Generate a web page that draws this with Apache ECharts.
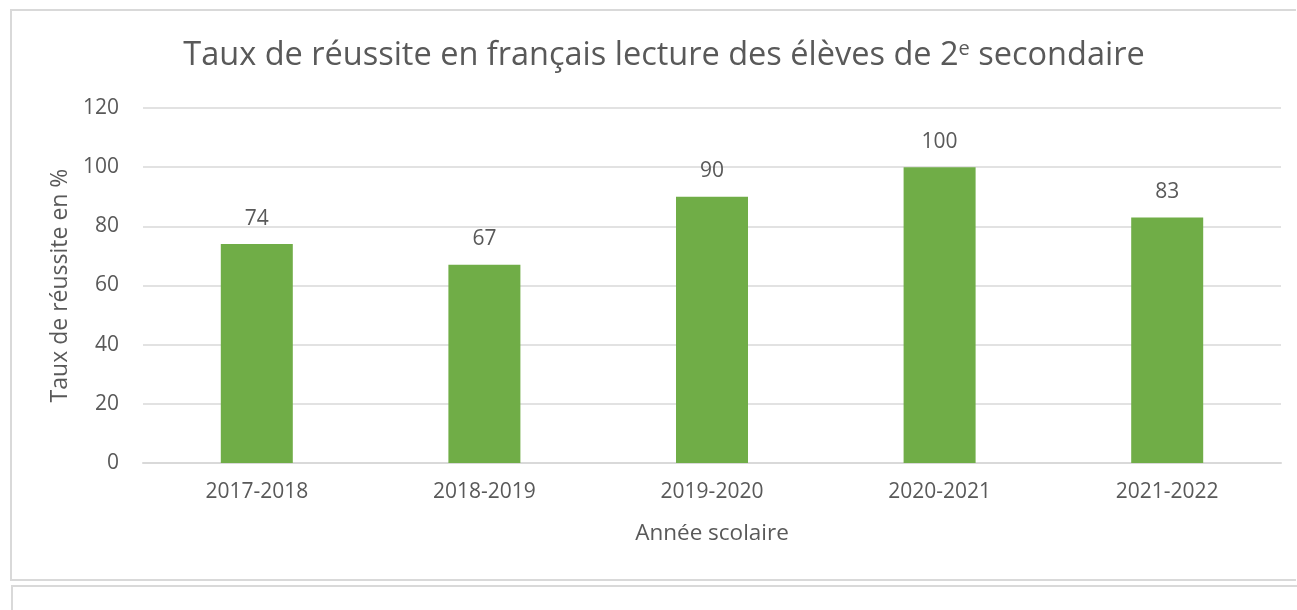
<!DOCTYPE html>
<html>
<head>
<meta charset="utf-8">
<script src="https://cdn.jsdelivr.net/npm/echarts@6/dist/echarts.min.js"></script>
<style>
  html, body { margin: 0; padding: 0; background: #fff; }
  .frame {
    position: absolute; left: 10px; top: 9px; width: 1286px; height: 572px;
    border: 2px solid #d9d9d9; border-right: none; box-sizing: border-box;
  }
  .frame2 {
    position: absolute; left: 11px; top: 585px; width: 1286px; height: 40px;
    border: 2px solid #d9d9d9; border-right: none; box-sizing: border-box;
  }
  #chart { position: absolute; left: 0; top: 0; width: 1297px; height: 610px; }
</style>
</head>
<body>
<div class="frame"></div>
<div class="frame2"></div>
<div id="chart"></div>
<script>
// données
const annees = ['2017-2018', '2018-2019', '2019-2020', '2020-2021', '2021-2022']
const tauxReussite = [74, 67, 90, 100, 83]
const yTicks = [0, 20, 40, 60, 80, 100, 120]

const textColor = '#595959'
const font = 'Open Sans'

const chart = echarts.init(document.getElementById('chart'))
chart.setOption({
  animation: false,
  textStyle: { fontFamily: font, color: textColor },
  title: {
    text: '{a|Taux de réussite en français lecture des élèves de 2}{s|e}{a| secondaire}',
    left: 659,
    top: 34,
    textAlign: 'center',
    textStyle: {
      fontWeight: 'normal',
      rich: {
        a: { fontFamily: font, fontSize: 32.5, fontWeight: 'normal', color: textColor },
        s: { fontFamily: font, fontSize: 20, fontWeight: 'normal', color: textColor, verticalAlign: 'top', padding: [0, 0, 12, 0] }
      }
    }
  },
  grid: { left: 143, right: 16, top: 108, bottom: 147 },
  xAxis: {
    type: 'category',
    data: annees,
    name: 'Année scolaire',
    nameLocation: 'middle',
    nameGap: 59,
    nameTextStyle: { fontSize: 22.5, color: textColor, fontFamily: font },
    axisLine: { lineStyle: { color: '#d9d9d9', width: 2 } },
    axisTick: { show: false },
    axisLabel: { fontSize: 21, color: textColor, margin: 19, fontFamily: font }
  },
  yAxis: {
    type: 'value',
    min: yTicks[0],
    max: yTicks[yTicks.length - 1],
    interval: 20,
    name: 'Taux de réussite en %',
    nameLocation: 'middle',
    nameGap: 68,
    nameTextStyle: { fontSize: 23, color: textColor, fontFamily: font },
    axisLine: { show: false },
    axisTick: { show: false },
    axisLabel: { fontSize: 21, color: textColor, margin: 24, fontFamily: font },
    splitLine: { lineStyle: { color: '#d9d9d9', width: 1.5 } }
  },
  series: [
    {
      type: 'bar',
      data: tauxReussite,
      barWidth: 72,
      itemStyle: { color: '#70ad47' },
      label: {
        show: true,
        position: 'top',
        distance: 15,
        fontSize: 21,
        color: textColor,
        fontFamily: font
      }
    }
  ]
})
</script>
</body>
</html>
